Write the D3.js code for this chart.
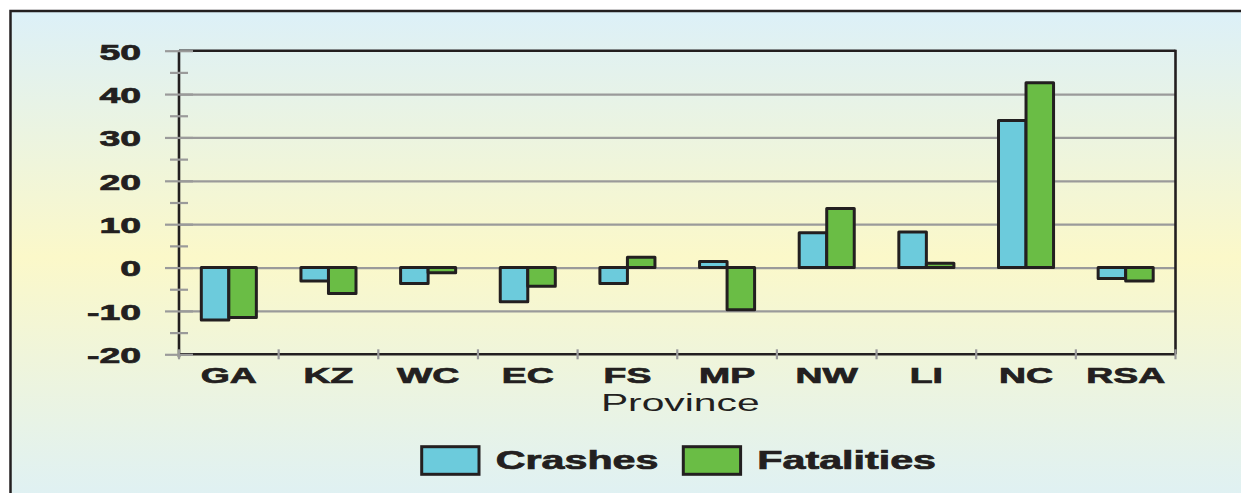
<!DOCTYPE html>
<html>
<head>
<meta charset="utf-8">
<script src="https://cdn.jsdelivr.net/npm/d3@7"></script>
<style>
  body { margin: 0; background: white; }
  svg { display: block; }
</style>
</head>
<body>
<div id="chart"></div>
<script>
// data (% change per province)
const provinces = ["GA", "KZ", "WC", "EC", "FS", "MP", "NW", "LI", "NC", "RSA"];
const crashes    = [-12.1, -3.1, -3.7, -7.9, -3.7, 1.4, 8.0, 8.2, 33.9, -2.5];
const fatalities = [-11.5, -6.0, -1.2, -4.3,  2.4, -9.7, 13.6, 1.0, 42.6, -3.1];
const seriesNames = ["Crashes", "Fatalities"];
const yTicks = [-20, -10, 0, 10, 20, 30, 40, 50];
const yMinor = [-15, -5, 5, 15, 25, 35, 45];

let width = 1241, height = 493;
let plot = { left: 179, right: 1175.5, top: 50.7, bottom: 354.3 };
const ink = "#231f20", grid = "#9a9a9a";
const colors = { Crashes: "#6ccbdc", Fatalities: "#6abd45" };
const sx = 1.7; // the original type is a wide extended face

let data = provinces.map((p, i) => ({ province: p, Crashes: crashes[i], Fatalities: fatalities[i] }));

let svg = d3.select("#chart").append("svg")
    .attr("width", width)
    .attr("height", height);

// background gradient
const grad = svg.append("defs").append("linearGradient")
    .attr("id", "bg").attr("x1", 0).attr("y1", 0).attr("x2", 0).attr("y2", 1);
grad.append("stop").attr("offset", "0%").attr("stop-color", "#dcf0f8");
grad.append("stop").attr("offset", "48%").attr("stop-color", "#fbf8c9");
grad.append("stop").attr("offset", "100%").attr("stop-color", "#dcf0f8");

svg.append("rect")
    .attr("x", 10.5).attr("y", 11)
    .attr("width", width + 20).attr("height", height + 20)
    .attr("fill", "url(#bg)")
    .attr("stroke", ink).attr("stroke-width", 2.5);

// scales
let y = d3.scaleLinear().domain([-20, 50]).range([plot.bottom, plot.top]);
let x0 = d3.scaleBand().domain(provinces).range([plot.left, plot.right]).padding(0);
let x1 = d3.scaleBand().domain(seriesNames).range([0, x0.bandwidth()])
    .paddingInner(0).paddingOuter(0.81);

// gridlines
svg.append("g")
    .attr("transform", `translate(${plot.left},0)`)
    .call(d3.axisLeft(y).tickValues(yTicks.filter(t => t > -20 && t < 50))
        .tickSize(-(plot.right - plot.left)).tickFormat(""))
    .call(g => g.select(".domain").remove())
    .selectAll("line").attr("stroke", grid).attr("stroke-width", 2.2);

// bars
const groups = svg.selectAll(".prov")
    .data(data)
    .enter().append("g")
    .attr("transform", d => `translate(${x0(d.province)},0)`);

groups.selectAll("rect")
    .data(d => seriesNames.map(s => ({ key: s, value: d[s] })))
    .enter().append("rect")
    .attr("x", d => x1(d.key))
    .attr("y", d => y(Math.max(0, d.value)))
    .attr("width", x1.bandwidth())
    .attr("height", d => Math.abs(y(d.value) - y(0)))
    .attr("fill", d => colors[d.key])
    .attr("stroke", ink)
    .attr("stroke-width", 3)
    .attr("stroke-linejoin", "round");

// plot frame
const frame = svg.append("g").attr("stroke", ink).attr("stroke-width", 2.6).attr("fill", "none");
frame.append("line").attr("x1", plot.left).attr("x2", plot.right).attr("y1", y(50)).attr("y2", y(50));
frame.append("line").attr("x1", plot.left).attr("x2", plot.right).attr("y1", y(-20)).attr("y2", y(-20));
frame.append("line").attr("x1", plot.left).attr("x2", plot.left).attr("y1", y(50)).attr("y2", y(-20) + 3);
frame.append("line").attr("x1", plot.right).attr("x2", plot.right).attr("y1", y(50) - 1).attr("y2", y(-20));

// major tick stubs
svg.append("g")
    .attr("transform", `translate(193,0)`)
    .call(d3.axisLeft(y).tickValues(yTicks).tickSize(28).tickFormat(""))
    .call(g => g.select(".domain").remove())
    .selectAll("line").attr("stroke", grid).attr("stroke-width", 2.2);

// minor ticks
svg.append("g")
    .attr("transform", `translate(188,0)`)
    .call(d3.axisLeft(y).tickValues(yMinor).tickSize(18).tickFormat(""))
    .call(g => g.select(".domain").remove())
    .selectAll("line").attr("stroke", grid).attr("stroke-width", 2.2);

// x category boundary ticks
const bounds = provinces.map(p => x0(p)).concat([x0.range()[1]]);
svg.append("g").selectAll("line")
    .data(bounds)
    .enter().append("line")
    .attr("x1", d => d).attr("x2", d => d)
    .attr("y1", plot.bottom - 5).attr("y2", plot.bottom + 5)
    .attr("stroke", grid).attr("stroke-width", 2.2);

// heavy type helper
function heavy(sel, size) {
    sel.attr("fill", ink)
        .attr("stroke", ink)
        .attr("stroke-width", 0.7)
        .style("font-family", "'Liberation Sans', Arial, sans-serif")
        .style("font-weight", "bold")
        .style("font-size", size + "px");
}

// y tick labels (plain hyphen minus as in the original)
svg.append("g")
    .attr("transform", `translate(141,0)`)
    .call(d3.axisLeft(y).tickValues(yTicks).tickSize(0).tickPadding(0).tickFormat(d => String(d)))
    .call(g => g.select(".domain").remove())
    .selectAll("text")
    .attr("x", 0).attr("dy", "0.38em")
    .attr("transform", `scale(${sx},1)`)
    .call(heavy, 22);

// x tick labels
svg.append("g")
    .attr("transform", `translate(0,${plot.bottom})`)
    .call(d3.axisBottom(x0).tickSize(0).tickPadding(0))
    .call(g => g.select(".domain").remove())
    .selectAll("text")
    .attr("y", 0).attr("dy", 0)
    .attr("transform", `translate(0,28.4) scale(${sx},1)`)
    .call(heavy, 22);

// x axis title
svg.append("text")
    .text("Province")
    .attr("transform", `translate(${(plot.left + plot.right) / 2 + 3},411) scale(${sx},1)`)
    .attr("text-anchor", "middle")
    .attr("fill", ink)
    .style("font-family", "'Liberation Sans', Arial, sans-serif")
    .style("font-size", "24px");

// legend
const legend = svg.append("g");
const legendX = [421.7, 683.3];
seriesNames.forEach((s, i) => {
    legend.append("rect")
        .attr("x", legendX[i]).attr("y", 446.7)
        .attr("width", 57.3).attr("height", 27.6)
        .attr("fill", colors[s])
        .attr("stroke", ink).attr("stroke-width", 3);
    legend.append("text")
        .text(s)
        .attr("transform", `translate(${legendX[i] + 74},469.3) scale(1.65,1)`)
        .call(heavy, 25);
});
</script>
</body>
</html>
